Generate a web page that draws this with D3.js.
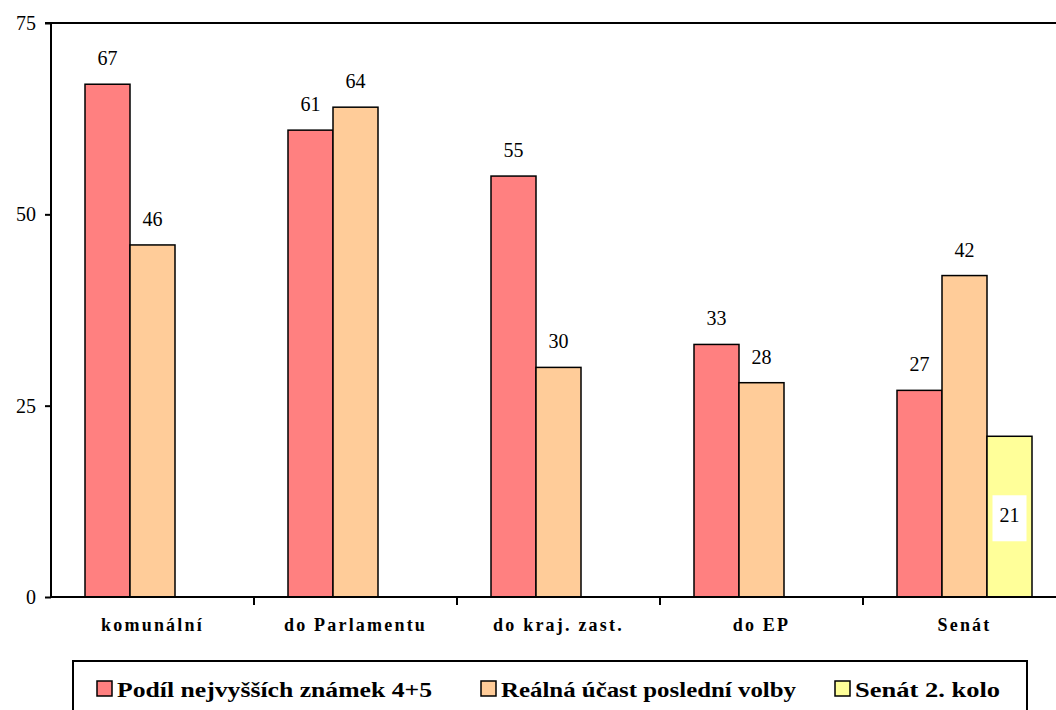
<!DOCTYPE html>
<html><head><meta charset="utf-8">
<script src="https://cdn.jsdelivr.net/npm/d3@7"></script>
</head><body style="margin:0;background:#fff">
<svg id="c" width="1056" height="710" style="display:block"></svg>
<script>
const categories = ["komunální","do Parlamentu","do kraj. zast.","do EP","Senát"];
const seriesNames = ["Podíl nejvyšších známek 4+5","Reálná účast poslední volby","Senát 2. kolo"];
const podil = [67,61,55,33,27];
const ucast = [46,64,30,28,42];
const senat2 = [null,null,null,null,21];
const colors = ["#FF8080","#FFCC99","#FFFF99"];
const yTicks = [0,25,50,75];

const SERIF = '"Liberation Serif"';
const svg = d3.select("#c");
const pL = 51, pT = 23, pB = 597, pR = 1066;
const y = d3.scaleLinear().domain([0,75]).range([pB, pT]);
const x0 = d3.scaleBand().domain(categories).range([pL, pR]).padding(0);
const x1 = d3.scaleBand().domain([0,1,2]).range([34, x0.bandwidth()-34]).padding(0);

const data = categories.map((c,i)=>({c, vals:[podil[i],ucast[i],senat2[i]]}));

svg.append("line").attr("x1",pL).attr("x2",1056).attr("y1",pT).attr("y2",pT).attr("stroke","#000").attr("stroke-width",2);

const g = svg.append("g");
data.forEach(d=>{
  d.vals.forEach((v,k)=>{
    if(v==null) return;
    g.append("rect").attr("x",x0(d.c)+x1(k)).attr("y",y(v)).attr("width",x1.bandwidth()).attr("height",y(0)-y(v))
     .attr("fill",colors[k]).attr("stroke","#000").attr("stroke-width",1.5);
    const cx = x0(d.c)+x1(k)+x1.bandwidth()/2;
    if(k===2){
      g.append("rect").attr("x",cx-17).attr("y",y(v)+59).attr("width",34).attr("height",46).attr("fill","#fff");
      g.append("text").attr("x",cx).attr("y",y(v)+86).attr("text-anchor","middle").style("font-family",SERIF).attr("font-size",20).text(v);
    } else {
      g.append("text").attr("x",cx).attr("y",y(v)-19).attr("text-anchor","middle").style("font-family",SERIF).attr("font-size",20).text(v);
    }
  });
});

const ya = svg.append("g").attr("transform",`translate(${pL},0)`).call(d3.axisLeft(y).tickValues(yTicks).tickSize(6).tickPadding(9));
ya.attr("font-family",null).attr("font-size",null);
ya.select(".domain").attr("stroke-width",2).attr("d",`M-6,${pT}H0V${pB}`);
ya.selectAll(".tick line").attr("stroke-width",2);
ya.selectAll("text").style("font-family",SERIF).attr("font-size",20).attr("fill","#000");

const xa = svg.append("g").attr("transform",`translate(0,${pB})`).call(d3.axisBottom(x0).tickSize(0).tickPadding(21));
xa.attr("font-family",null).attr("font-size",null);
xa.select(".domain").attr("stroke-width",2).attr("d",`M${pL},0H1056`);
xa.selectAll("text").style("font-family",SERIF).attr("font-size",18).attr("font-weight","bold").attr("letter-spacing",2.2).attr("fill","#000");
svg.append("g").selectAll("line").data(categories.slice(1)).join("line")
  .attr("x1",d=>x0(d)).attr("x2",d=>x0(d)).attr("y1",pB).attr("y2",pB+8).attr("stroke","#000").attr("stroke-width",2);

const lg = svg.append("g");
lg.append("rect").attr("x",73).attr("y",661).attr("width",954).attr("height",60).attr("fill","#fff").attr("stroke","#000").attr("stroke-width",2);
const lx = [97,481,835];
const lw = [315,295,145];
seriesNames.forEach((n,k)=>{
  lg.append("rect").attr("x",lx[k]).attr("y",681).attr("width",15).attr("height",15).attr("fill",colors[k]).attr("stroke","#000").attr("stroke-width",1.5);
  lg.append("text").attr("x",lx[k]+20).attr("y",697).style("font-family",SERIF).attr("font-size",22).attr("font-weight","bold")
    .attr("textLength",lw[k]).attr("lengthAdjust","spacingAndGlyphs").text(n);
});
</script>
</body></html>
